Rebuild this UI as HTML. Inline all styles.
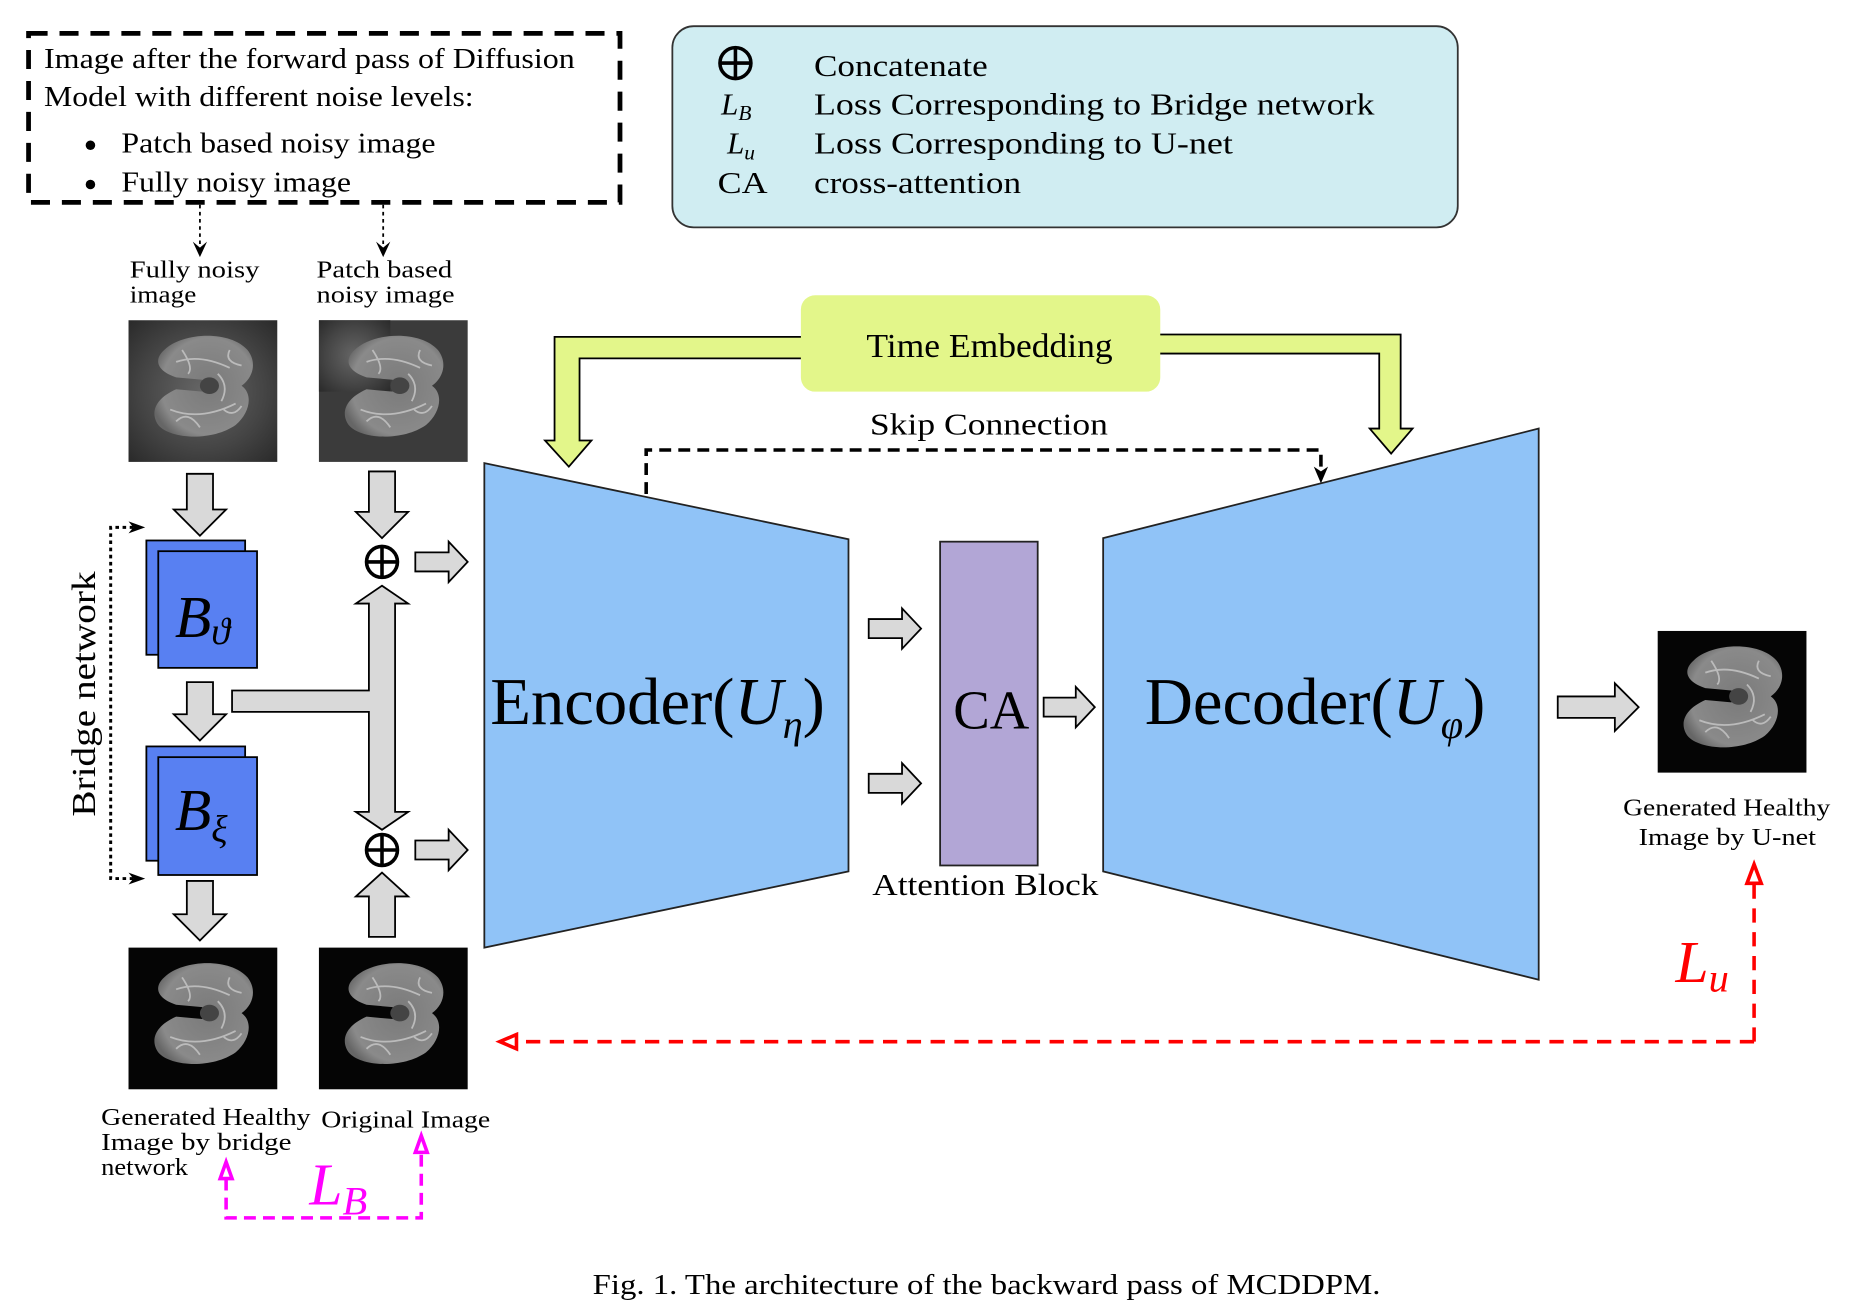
<!DOCTYPE html>
<html><head><meta charset="utf-8"><style>
html,body{margin:0;padding:0;background:#fff;}
svg{display:block;}
text{font-family:"Liberation Serif",serif;fill:#000;}
</style></head><body>
<svg width="1860" height="1300" viewBox="0 0 1563 1092" preserveAspectRatio="none" xmlns="http://www.w3.org/2000/svg">
<defs>
<radialGradient id="noise" cx="50%" cy="50%" r="70%"><stop offset="0" stop-color="#666"/><stop offset="0.6" stop-color="#444"/><stop offset="1" stop-color="#2a2a2a"/></radialGradient>
<radialGradient id="brain" cx="55%" cy="50%" r="60%"><stop offset="0" stop-color="#7a7a7a"/><stop offset="0.8" stop-color="#8a8a8a"/><stop offset="1" stop-color="#666"/></radialGradient>
<g id="br">
<path d="M30,25 C45,10 85,8 100,25 C108,35 105,48 95,55 C105,62 102,78 90,88 C70,102 35,100 25,88 C18,78 22,66 40,58 L62,60 L62,50 L40,48 C22,42 22,32 30,25 Z" fill="url(#brain)"/>
<ellipse cx="68" cy="55" rx="8" ry="7" fill="#444"/>
<path d="M40,35 Q60,28 85,40 M35,75 Q60,85 90,70 M75,45 Q85,55 78,68 M45,25 Q55,40 50,45 M85,25 Q80,35 95,38 M40,85 Q50,75 60,90 M80,75 Q88,82 95,72" stroke="#bbb" stroke-width="1.5" fill="none"/>
</g>
</defs>

<!-- top dashed box -->
<rect x="24" y="28" width="497" height="142" fill="none" stroke="#000" stroke-width="4" stroke-dasharray="16 10"/>
<text x="37" y="57" font-size="24" textLength="446" lengthAdjust="spacingAndGlyphs">Image after the forward pass of Diffusion</text>
<text x="37" y="89" font-size="24" textLength="361" lengthAdjust="spacingAndGlyphs">Model with different noise levels:</text>
<circle cx="76" cy="122" r="4"/><circle cx="76" cy="155" r="4"/>
<text x="102" y="128" font-size="24" textLength="264" lengthAdjust="spacingAndGlyphs">Patch based noisy image</text>
<text x="102" y="161" font-size="24" textLength="193" lengthAdjust="spacingAndGlyphs">Fully noisy image</text>

<!-- legend -->
<rect x="565" y="22" width="660" height="169" rx="18" fill="#d0edf2" stroke="#333" stroke-width="1.5"/>
<circle cx="618" cy="53" r="13" fill="none" stroke="#000" stroke-width="3"/>
<line x1="605" y1="53" x2="631" y2="53" stroke="#000" stroke-width="3"/><line x1="618" y1="40" x2="618" y2="66" stroke="#000" stroke-width="3"/>
<text x="684" y="64" font-size="26" textLength="146" lengthAdjust="spacingAndGlyphs">Concatenate</text>
<text x="606" y="96" font-size="26" font-style="italic">L<tspan font-size="18" dy="5">B</tspan></text>
<text x="684" y="96" font-size="26" textLength="471" lengthAdjust="spacingAndGlyphs">Loss Corresponding to Bridge network</text>
<text x="611" y="129" font-size="26" font-style="italic">L<tspan font-size="18" dy="5">u</tspan></text>
<text x="684" y="129" font-size="26" textLength="352" lengthAdjust="spacingAndGlyphs">Loss Corresponding to U-net</text>
<text x="603" y="162" font-size="26" textLength="42" lengthAdjust="spacingAndGlyphs">CA</text>
<text x="684" y="162" font-size="26" textLength="174" lengthAdjust="spacingAndGlyphs">cross-attention</text>

<!-- dotted arrows -->
<line x1="168" y1="172" x2="168" y2="210" stroke="#000" stroke-width="1.5" stroke-dasharray="3 3"/>
<path d="M162,203 L168,216 L174,203 L168,208Z"/>
<line x1="322" y1="172" x2="322" y2="210" stroke="#000" stroke-width="1.5" stroke-dasharray="3 3"/>
<path d="M316,203 L322,216 L328,203 L322,208Z"/>
<text x="109" y="233" font-size="20" textLength="109" lengthAdjust="spacingAndGlyphs">Fully  noisy</text>
<text x="109" y="254" font-size="20" textLength="56" lengthAdjust="spacingAndGlyphs">image</text>
<text x="266" y="233" font-size="20" textLength="114" lengthAdjust="spacingAndGlyphs">Patch  based</text>
<text x="266" y="254" font-size="20" textLength="116" lengthAdjust="spacingAndGlyphs">noisy  image</text>

<!-- images -->
<rect x="108" y="269" width="125" height="119" fill="url(#noise)"/>
<use href="#br" x="108" y="269"/>
<rect x="268" y="269" width="125" height="119" fill="#3b3b3b"/>
<rect x="268" y="269" width="60" height="60" fill="url(#noise)"/>
<use href="#br" x="268" y="269"/>
<rect x="108" y="796" width="125" height="119" fill="#050505"/>
<use href="#br" x="108" y="796"/>
<rect x="268" y="796" width="125" height="119" fill="#050505"/>
<use href="#br" x="268" y="796"/>
<rect x="1393" y="530" width="125" height="119" fill="#050505"/>
<use href="#br" x="1393" y="530"/>

<g fill="#d9d9d9" stroke="#000" stroke-width="1.5">
<path d="M157,398 H179 V428 H190 L168,450 L146,428 H157Z"/>
<path d="M157,573 H179 V600 H190 L168,622 L146,600 H157Z"/>
<path d="M157,740 H179 V768 H190 L168,790 L146,768 H157Z"/>
<path d="M310,396 H332 V430 H343 L321,452 L299,430 H310Z"/>
<path d="M310,787 H332 V753 H343 L321,733 L299,753 H310Z"/>
<path d="M195,580 H310 V507 H299 L321,492 L343,507 H332 V682 H343 L321,697 L299,682 H310 V598 H195Z"/>
<path d="M349,464 H377 V455 L393,472 L377,489 V480 H349Z"/>
<path d="M349,706 H377 V697 L393,714 L377,731 V722 H349Z"/>
<path d="M730,520 H758 V511 L774,528 L758,545 V536 H730Z"/>
<path d="M730,650 H758 V641 L774,658 L758,675 V666 H730Z"/>
<path d="M877,586 H904 V577 L920,594 L904,611 V602 H877Z"/>
<path d="M1309,585 H1357 V574 L1377,594 L1357,614 V603 H1309Z"/>
</g>

<g stroke="#000" stroke-width="3" fill="#fff">
<circle cx="321" cy="472" r="13"/><line x1="308" y1="472" x2="334" y2="472"/><line x1="321" y1="459" x2="321" y2="485"/>
<circle cx="321" cy="714" r="13"/><line x1="308" y1="714" x2="334" y2="714"/><line x1="321" y1="701" x2="321" y2="727"/>
</g>

<rect x="123" y="454" width="83" height="96" fill="#5880f2" stroke="#000" stroke-width="1.5"/>
<rect x="133" y="463" width="83" height="98" fill="#5880f2" stroke="#000" stroke-width="1.5"/>
<text x="147" y="535" font-size="50" font-style="italic">B<tspan font-size="32" dy="6">ϑ</tspan></text>
<rect x="123" y="627" width="83" height="96" fill="#5880f2" stroke="#000" stroke-width="1.5"/>
<rect x="133" y="636" width="83" height="99" fill="#5880f2" stroke="#000" stroke-width="1.5"/>
<text x="147" y="697" font-size="50" font-style="italic">B<tspan font-size="32" dy="10">ξ</tspan></text>

<text transform="translate(80,583) rotate(-90)" text-anchor="middle" font-size="28" textLength="206" lengthAdjust="spacingAndGlyphs">Bridge  network</text>
<path d="M112,443 H93 V738 H112" fill="none" stroke="#000" stroke-width="2.5" stroke-dasharray="3 3"/>
<path d="M108,438 L122,443 L108,448 L112,443Z"/>
<path d="M108,733 L122,738 L108,743 L112,738Z"/>

<polygon points="407,389 713,453 713,732 407,796" fill="#90c3f7" stroke="#222" stroke-width="1.5"/>
<text x="412" y="608" font-size="56">Encoder(<tspan font-style="italic">U</tspan><tspan font-size="34" dy="12" font-style="italic">η</tspan><tspan dy="-12">)</tspan></text>
<polygon points="927,452 1293,360 1293,823 927,732" fill="#90c3f7" stroke="#222" stroke-width="1.5"/>
<text x="962" y="608" font-size="56">Decoder(<tspan font-style="italic">U</tspan><tspan font-size="34" dy="12" font-style="italic">φ</tspan><tspan dy="-12">)</tspan></text>
<rect x="790" y="455" width="82" height="272" fill="#b2a6d6" stroke="#222" stroke-width="1.5"/>
<text x="833" y="612" font-size="46" text-anchor="middle">CA</text>
<text x="733" y="752" font-size="26" textLength="190" lengthAdjust="spacingAndGlyphs">Attention Block</text>

<path d="M680,283 H466 V370 H458 L478,392 L497,370 H487 V301 H680Z" fill="#e3f68a" stroke="#000" stroke-width="1.5"/>
<path d="M970,281 H1177 V360 H1187 L1169,381 L1151,360 H1159 V297 H970Z" fill="#e3f68a" stroke="#000" stroke-width="1.5"/>
<rect x="673" y="248" width="302" height="81" rx="12" fill="#e3f68a"/>
<text x="728" y="300" font-size="28" textLength="207" lengthAdjust="spacingAndGlyphs">Time Embedding</text>

<text x="731" y="365" font-size="26" textLength="200" lengthAdjust="spacingAndGlyphs">Skip Connection</text>
<path d="M543,415 V378 H1110 V398" fill="none" stroke="#000" stroke-width="3" stroke-dasharray="10 6"/>
<path d="M1104,392 L1110,406 L1116,392 L1110,396Z"/>

<text x="1364" y="685" font-size="20" textLength="174" lengthAdjust="spacingAndGlyphs">Generated Healthy</text>
<text x="1377" y="710" font-size="20" textLength="149" lengthAdjust="spacingAndGlyphs">Image by U-net</text>

<path d="M1474,875 V742 M1474,875 H432" fill="none" stroke="#f00" stroke-width="3" stroke-dasharray="12 8"/>
<path d="M1468,742 L1474,726 L1480,742Z" fill="#fff" stroke="#f00" stroke-width="3"/>
<path d="M434,869 L420,875 L434,881Z" fill="#fff" stroke="#f00" stroke-width="3"/>
<text x="1408" y="825" font-size="50" font-style="italic" style="fill:#f00">L<tspan font-size="34" dy="8">u</tspan></text>

<text x="85" y="945" font-size="20" textLength="176" lengthAdjust="spacingAndGlyphs">Generated  Healthy</text>
<text x="85" y="966" font-size="20" textLength="160" lengthAdjust="spacingAndGlyphs">Image  by  bridge</text>
<text x="85" y="987" font-size="20" textLength="73" lengthAdjust="spacingAndGlyphs">network</text>
<text x="270" y="947" font-size="20" textLength="142" lengthAdjust="spacingAndGlyphs">Original Image</text>

<path d="M190,990 V1023 H354 V968" fill="none" stroke="#f0f" stroke-width="3" stroke-dasharray="10 6"/>
<path d="M185,990 L190,976 L195,990Z" fill="#fff" stroke="#f0f" stroke-width="3"/>
<path d="M349,968 L354,954 L359,968Z" fill="#fff" stroke="#f0f" stroke-width="3"/>
<text x="260" y="1012" font-size="50" font-style="italic" style="fill:#f0f">L<tspan font-size="34" dy="8">B</tspan></text>

<text x="498" y="1087" font-size="24" textLength="662" lengthAdjust="spacingAndGlyphs">Fig. 1.  The architecture of the backward pass of MCDDPM.</text>
</svg>
</body></html>
